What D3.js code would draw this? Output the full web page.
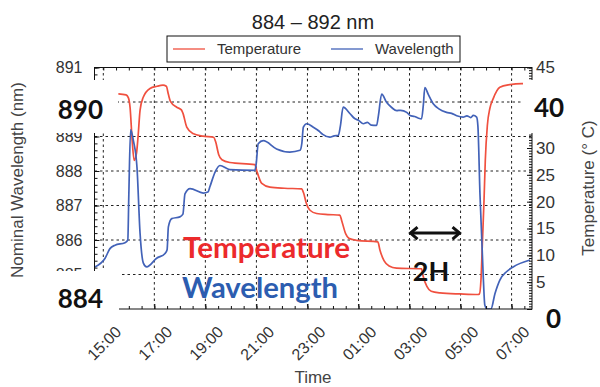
<!DOCTYPE html>
<html>
<head>
<meta charset="utf-8">
<script src="https://cdn.jsdelivr.net/npm/d3@7"></script>
<style>
body { margin: 0; background: #fff; }
svg { display: block; font-family: "Liberation Sans", Arial, sans-serif; }
</style>
</head>
<body>
<svg width="600" height="387"></svg>
<script>
//time is hours after 15:00
const tempHours = [0.59, 0.89, 0.98, 1.05, 1.13, 1.21, 1.30, 1.36, 1.44, 1.56, 1.83, 2.10, 2.34, 2.47, 2.55, 2.63, 2.88, 3.06,
    3.12, 3.27, 3.51, 3.90, 4.32, 4.40, 4.52, 4.65, 4.96, 5.94, 6.01, 6.21, 6.53, 7.10, 7.77, 7.85, 7.95, 8.10, 8.36, 8.80,
    9.27, 9.34, 9.50, 9.62, 9.93, 10.76, 10.84, 11.00, 11.20, 11.49, 12.47, 12.53, 12.68, 12.85, 13.19, 14.00, 14.68,
    14.74, 14.80, 14.86, 14.92, 14.97, 15.05, 15.15, 15.28, 15.54, 15.93, 16.40, 16.76];
const tempValues = [40.1, 39.9, 39.4, 37.5, 31.5, 27.7, 29.0, 32.0, 37.0, 39.4, 41.1, 41.5, 41.7, 41.5, 40.0, 38.7, 37.6, 37.1,
    36.5, 33.9, 32.7, 32.2, 32.0, 31.2, 28.8, 27.8, 27.3, 26.9, 25.8, 23.4, 22.7, 22.5, 22.4, 21.6, 19.8, 18.4, 17.8, 17.6,
    17.5, 16.5, 14.0, 13.2, 12.8, 12.5, 11.0, 9.0, 8.0, 7.6, 7.5, 6.2, 4.2, 3.3, 3.0, 2.8, 2.7,
    2.8, 5.4, 12.8, 20.3, 27.7, 34.2, 37.4, 39.2, 41.3, 41.8, 42.0, 42.0];

const waveHours = [-0.33, 0.07, 0.26, 0.46, 0.85, 0.96, 1.00, 1.07, 1.18, 1.32, 1.44, 1.57, 1.70, 2.09, 2.42, 2.50, 2.55,
    2.68, 3.00, 3.12, 3.20, 3.40, 3.92, 4.10, 4.18, 4.38, 4.57, 4.96, 5.94, 5.99, 6.07, 6.27, 6.79, 7.31, 7.71, 7.78, 7.84,
    7.97, 8.23, 8.45, 8.60, 8.88, 9.05, 9.21, 9.29, 9.40, 9.67, 9.85, 10.00, 10.19, 10.35, 10.50, 10.71, 10.78, 10.91, 11.10,
    11.30, 11.50, 11.65, 11.89, 12.02, 12.20, 12.35, 12.47, 12.54, 12.60, 12.73, 12.93, 13.15, 13.45, 13.65, 13.85, 14.10,
    14.25, 14.40, 14.50, 14.63, 14.68, 14.76, 14.89, 14.95, 15.03, 15.19, 15.35, 15.54, 15.80, 16.06, 16.72];
const waveValues = [885.22, 885.47, 885.75, 885.85, 885.92, 886.00, 887.30, 889.20, 888.88, 888.10, 886.20, 885.33, 885.22,
    885.47, 885.61, 885.72, 886.38, 886.62, 886.67, 886.75, 887.34, 887.49, 887.36, 887.39, 887.55, 887.97, 888.16, 888.04,
    888.02, 888.20, 888.79, 888.88, 888.64, 888.55, 888.60, 888.80, 889.27, 889.37, 889.27, 889.16, 889.06, 888.98, 889.02,
    889.03, 889.30, 889.85, 889.66, 889.52, 889.47, 889.37, 889.41, 889.33, 889.32, 889.60, 890.23, 889.99, 889.84, 889.75,
    889.76, 889.70, 889.61, 889.58, 889.53, 889.51, 889.90, 890.42, 890.23, 889.95, 889.80, 889.70, 889.67, 889.60, 889.56,
    889.60, 889.55, 889.61, 889.56, 889.30, 887.35, 884.93, 884.12, 884.00, 884.00, 884.45, 884.84, 885.08, 885.22, 885.42];

//tick labels
const timeTickLabels = ["15:00", "17:00", "19:00", "21:00", "23:00", "01:00", "03:00", "05:00", "07:00"];
const waveTicks = [884, 885, 886, 887, 888, 889, 890, 891];
const tempTicks = [0, 5, 10, 15, 20, 25, 30, 35, 40, 45];
//labels hidden under the pasted patches
const waveHidden = [884, 890];
const tempHidden = [0, 35, 40];

const start = new Date(2024, 0, 1, 15, 0);
const toDate = h => new Date(start.getTime() + h * 3600000);

const plot = { left: 94.5, right: 532, top: 67.5, bottom: 309 };
const red = "#f0503f";
const blue = "#4262b8";
const overlayFont = "Lato, 'Open Sans', sans-serif";

const svg = d3.select("svg");

//scales
const x = d3.scaleTime()
    .domain([toDate(-0.345), toDate(16.8)])
    .range([plot.left, plot.right]);
const yL = d3.scaleLinear().domain([884, 891]).range([plot.bottom, plot.top]);
const yR = d3.scaleLinear().domain([0, 45]).range([plot.bottom, plot.top]);

const majorTimes = timeTickLabels.map((d, i) => toDate(2 * i));
const minorTimes = d3.range(-0.5, 17, 0.5).map(toDate).filter(d => d >= x.domain()[0] && d <= x.domain()[1]);

//grid
const grid = svg.append("g")
    .attr("stroke", "#222")
    .attr("stroke-width", 1)
    .attr("stroke-dasharray", "2.5,3");
grid.selectAll(".vg").data(majorTimes).enter().append("line")
    .attr("x1", d => x(d)).attr("x2", d => x(d))
    .attr("y1", plot.top).attr("y2", plot.bottom);
grid.selectAll(".hg").data(waveTicks.slice(1, -1)).enter().append("line")
    .attr("x1", plot.left).attr("x2", plot.right)
    .attr("y1", d => yL(d)).attr("y2", d => yL(d));

//clip lines to plot box
svg.append("clipPath").attr("id", "clip").append("rect")
    .attr("x", plot.left).attr("y", plot.top)
    .attr("width", plot.right - plot.left).attr("height", plot.bottom - plot.top);

const tempLine = d3.line()
    .x((d, i) => x(toDate(tempHours[i])))
    .y(d => yR(d))
    .curve(d3.curveMonotoneX);
const waveLine = d3.line()
    .x((d, i) => x(toDate(waveHours[i])))
    .y(d => yL(d))
    .curve(d3.curveMonotoneX);

svg.append("path")
    .attr("clip-path", "url(#clip)")
    .attr("d", tempLine(tempValues))
    .attr("fill", "none").attr("stroke", red).attr("stroke-width", 1.7);
svg.append("path")
    .attr("clip-path", "url(#clip)")
    .attr("d", waveLine(waveValues))
    .attr("fill", "none").attr("stroke", blue).attr("stroke-width", 1.7);

//axes
function styleAxis(g) {
    g.select(".domain").remove();
    g.selectAll("line").attr("stroke", "#111");
    g.selectAll("text").attr("fill", "#333");
}

//bottom axis
const xAxis = svg.append("g")
    .attr("transform", `translate(0, ${plot.bottom})`)
    .call(d3.axisBottom(x).tickValues(majorTimes).tickSize(-5).tickFormat((d, i) => timeTickLabels[i]))
    .call(styleAxis);
xAxis.selectAll("text")
    .attr("font-size", "16px")
    .attr("text-anchor", "end")
    .attr("x", 18.5).attr("y", 24).attr("dy", 0)
    .attr("transform", "rotate(-45, 18.5, 24)");
svg.append("g")
    .attr("transform", `translate(0, ${plot.bottom})`)
    .call(d3.axisBottom(x).tickValues(minorTimes).tickSize(-3).tickFormat(""))
    .call(styleAxis);

//top border ticks
svg.append("g")
    .attr("transform", `translate(0, ${plot.top})`)
    .call(d3.axisTop(x).tickValues(minorTimes).tickSize(-3).tickFormat(""))
    .call(styleAxis);

//left axis
svg.append("g")
    .attr("transform", `translate(${plot.left}, 0)`)
    .call(d3.axisLeft(yL).tickValues(waveTicks).tickSize(-5).tickPadding(12)
        .tickFormat(d => waveHidden.includes(d) ? "" : d3.format("d")(d)))
    .call(styleAxis)
    .selectAll("text").attr("font-size", "16px");
svg.append("g")
    .attr("transform", `translate(${plot.left}, 0)`)
    .call(d3.axisLeft(yL).tickValues(d3.range(884, 891.01, 0.2)).tickSize(-3).tickFormat(""))
    .call(styleAxis);

//right axis
svg.append("g")
    .attr("transform", `translate(${plot.right}, 0)`)
    .call(d3.axisRight(yR).tickValues(tempTicks).tickSize(-5).tickPadding(4)
        .tickFormat(d => tempHidden.includes(d) ? "" : d))
    .call(styleAxis)
    .selectAll("text").attr("font-size", "17px");
svg.append("g")
    .attr("transform", `translate(${plot.right}, 0)`)
    .call(d3.axisRight(yR).tickValues(d3.range(0, 45.01, 0.5)).tickSize(-3).tickFormat(""))
    .call(styleAxis);

//frame
svg.append("rect")
    .attr("x", plot.left).attr("y", plot.top)
    .attr("width", plot.right - plot.left).attr("height", plot.bottom - plot.top)
    .attr("fill", "none").attr("stroke", "#111").attr("stroke-width", 1);

//axis titles
svg.append("text")
    .attr("transform", "rotate(-90)")
    .attr("x", -180).attr("y", 23)
    .attr("text-anchor", "middle")
    .attr("font-size", "17px").attr("fill", "#444")
    .text("Nominal Wavelength (nm)");
svg.append("text")
    .attr("transform", "rotate(-90)")
    .attr("x", -188).attr("y", 594)
    .attr("text-anchor", "middle")
    .attr("font-size", "17px").attr("fill", "#444")
    .text("Temperature (° C)");
svg.append("text")
    .attr("x", 313).attr("y", 383)
    .attr("text-anchor", "middle")
    .attr("font-size", "17px").attr("fill", "#444")
    .text("Time");

//title
svg.append("text")
    .attr("x", 313).attr("y", 29)
    .attr("text-anchor", "middle")
    .attr("font-size", "20px").attr("fill", "#222")
    .text("884 – 892 nm");

//legend
const legend = svg.append("g").attr("transform", "translate(167, 36)");
legend.append("rect")
    .attr("width", 293).attr("height", 26)
    .attr("fill", "#fff").attr("stroke", "#111");
[["Temperature", red, 6], ["Wavelength", blue, 164]].forEach(([name, color, off]) => {
    legend.append("line")
        .attr("x1", off).attr("x2", off + 32).attr("y1", 13).attr("y2", 13)
        .attr("stroke", color).attr("stroke-width", 1.3);
    legend.append("text")
        .attr("x", off + 44).attr("y", 18)
        .attr("font-size", "15px").attr("fill", "#333")
        .text(name);
});

//white patches pasted over the original labels
const patches = [
    { x: 32, y: 80, w: 86, h: 53 },
    { x: 32, y: 271, w: 87, h: 54 },
    { x: 523, y: 80, w: 52, h: 53 },
    { x: 534, y: 302, w: 40, h: 34 }
];
svg.selectAll(".patch").data(patches).enter().append("rect")
    .attr("x", d => d.x).attr("y", d => d.y)
    .attr("width", d => d.w).attr("height", d => d.h)
    .attr("fill", "#fff");

//big overlay labels
const bigLabels = [
    { t: "890", x: 103, y: yL(890) + 17, a: "end" },
    { t: "884", x: 103, y: yL(884) - 1, a: "end" },
    { t: "40", x: 534, y: yL(890) + 15, a: "start" },
    { t: "0", x: 546, y: 328, a: "start" }
];
svg.selectAll(".big").data(bigLabels).enter().append("text")
    .attr("x", d => d.x).attr("y", d => d.y)
    .attr("text-anchor", d => d.a)
    .attr("font-family", overlayFont)
    .attr("font-weight", "bold")
    .attr("font-size", "26px").attr("fill", "#111")
    .text(d => d.t);

//series captions
svg.append("text")
    .attr("x", 183).attr("y", 258)
    .attr("font-family", overlayFont)
    .attr("font-weight", "bold").attr("font-size", "28px")
    .attr("textLength", 167).attr("lengthAdjust", "spacingAndGlyphs")
    .attr("fill", "#ec2a2c")
    .text("Temperature");
svg.append("text")
    .attr("x", 182).attr("y", 298)
    .attr("font-family", overlayFont)
    .attr("font-weight", "bold").attr("font-size", "28px")
    .attr("textLength", 156).attr("lengthAdjust", "spacingAndGlyphs")
    .attr("fill", "#2c5db0")
    .text("Wavelength");

//2 hour arrow
const ay = yL(886.2);
const x0 = x(toDate(12)), x1 = x(toDate(14));
const arrow = svg.append("g").attr("stroke", "#111").attr("stroke-width", 3).attr("fill", "none");
arrow.append("line").attr("x1", x0 + 1).attr("x2", x1 - 1).attr("y1", ay).attr("y2", ay);
arrow.append("path").attr("d", `M${x0 + 8},${ay - 6} L${x0 + 1},${ay} L${x0 + 8},${ay + 6}`);
arrow.append("path").attr("d", `M${x1 - 8},${ay - 6} L${x1 - 1},${ay} L${x1 - 8},${ay + 6}`);
svg.append("text")
    .attr("x", 431).attr("y", 281)
    .attr("text-anchor", "middle")
    .attr("font-family", overlayFont)
    .attr("font-weight", "bold").attr("font-size", "27px")
    .attr("fill", "#111")
    .text("2H");
</script>
</body>
</html>
